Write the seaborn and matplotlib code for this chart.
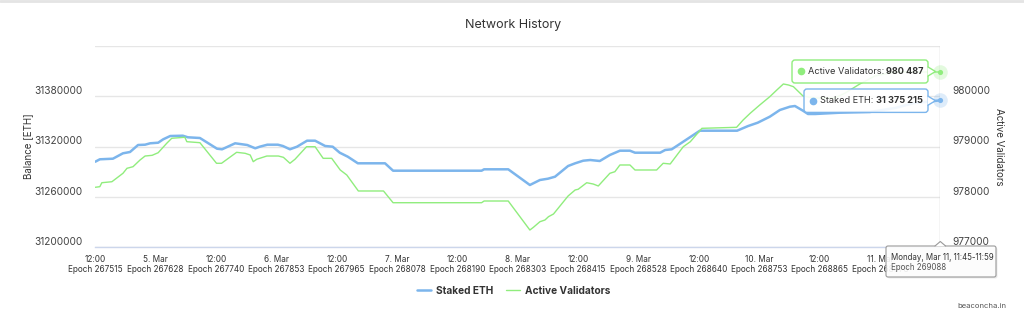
import matplotlib
matplotlib.use("Agg")
import matplotlib.pyplot as plt
import matplotlib.transforms as mtransforms
from matplotlib.patches import FancyBboxPatch, Polygon
from matplotlib.lines import Line2D
from matplotlib.text import Annotation
import pandas as pd
import seaborn as sns

# ---------------- data (hours since 4 Mar 12:00) ----------------
staked_hours = [0, 0.9, 3.5, 5.5, 6.9, 8.5, 9.9, 10.9, 12.5, 13.5, 14.9, 17.4, 18.4, 20.8,
                24.2, 25.2, 27.8, 30.2, 31.8, 32.7, 34.2, 36.3, 37.3, 38.7, 40.1, 42.1, 43.7,
                45.7, 47.2, 48.6, 50.2, 52.2, 57.6, 59.2, 76.8, 77.3, 82.1, 86.4, 88.4, 90.0,
                91.4, 94.0, 95.4, 97.0, 98.4, 100.3, 102.3, 104.3, 106.3, 107.3, 112.3, 113.3,
                114.6, 116.8, 120.2, 127.6, 129.8, 131.7, 134.1, 136.1, 138.1, 139.1, 140.7,
                141.7, 143.1, 148.0, 154.0, 159.0, 162.9, 167.9]
staked_eth = [31301800, 31304670, 31305390, 31311860, 31313410, 31321800, 31322160, 31323830,
              31324550, 31328620, 31332570, 31332930, 31331020, 31330180, 31317360, 31316650,
              31323830, 31321800, 31317840, 31319760, 31322160, 31322160, 31320600, 31316650,
              31319760, 31326950, 31326950, 31320600, 31319760, 31312570, 31307780, 31299880,
              31299880, 31291020, 31291020, 31292690, 31292690, 31273890, 31279880, 31281440,
              31283830, 31296650, 31299880, 31302990, 31303830, 31302630, 31309820, 31314970,
              31314970, 31312570, 31312570, 31315810, 31316650, 31325390, 31338920, 31338920,
              31344550, 31348500, 31355690, 31363710, 31367660, 31368500, 31362870, 31358920,
              31358920, 31360480, 31361320, 31366110, 31372100, 31375215]

validator_hours = [0, 0.9, 1.3, 3.3, 5.5, 6.3, 7.5, 8.9, 9.9, 11.3, 12.5, 14.2, 15.2, 17.8,
                   18.2, 20.8, 24.1, 25.1, 28.1, 29.8, 30.8, 31.4, 32.1, 34.1, 36.4, 37.4,
                   38.7, 39.7, 42.0, 43.7, 45.3, 47.0, 48.7, 50.0, 52.3, 57.3, 59.2, 76.8,
                   77.3, 82.1, 86.4, 87.1, 88.4, 89.4, 90.1, 91.1, 94.0, 95.4, 96.0, 97.7,
                   99.0, 100.0, 102.3, 103.3, 104.3, 106.3, 107.3, 111.6, 112.9, 114.3, 116.9,
                   118.3, 120.6, 127.5, 128.8, 130.2, 132.1, 134.1, 135.5, 136.8, 137.8, 138.8,
                   140.7, 143.1, 147.0, 149.0, 152.0, 155.0, 159.0, 167.9]
active_validators = [978186, 978198, 978277, 978297, 978465, 978565, 978597, 978731, 978810,
                     978824, 978876, 979064, 979164, 979184, 979096, 979076, 978665, 978665,
                     978884, 978864, 978830, 978697, 978745, 978810, 978810, 978784, 978665,
                     978745, 978996, 978996, 978764, 978764, 978531, 978431, 978112, 978112,
                     977878, 977878, 977912, 977912, 977333, 977387, 977499, 977533, 977599,
                     977653, 978012, 978132, 978146, 978277, 978251, 978212, 978465, 978497,
                     978631, 978631, 978531, 978531, 978665, 978651, 978996, 979096, 979363,
                     979383, 979529, 979663, 979828, 979994, 980128, 980248, 980228, 980194,
                     980008, 979968, 979968, 980062, 980248, 980407, 980487, 980487]

tick_hours = [0, 12, 24, 36, 48, 60, 72, 84, 96, 108, 120, 132, 144, 156]
tick_times = ["12:00", "5. Mar", "12:00", "6. Mar", "12:00", "7. Mar", "12:00", "8. Mar",
              "12:00", "9. Mar", "12:00", "10. Mar", "12:00", "11. Mar"]
tick_epochs = [267515, 267628, 267740, 267853, 267965, 268078, 268190, 268303, 268415,
               268528, 268640, 268753, 268865, 268978]
left_ticks = [31200000, 31260000, 31320000, 31380000, 31440000]
right_ticks = [977000, 978000, 979000, 980000, 981000]
hover_label = "Monday, Mar 11, 11:45-11:59"
hover_epoch = 269088

BLUE = "#7cb5ec"
GREEN = "#90ed7d"
TXT = "#333333"

sns.set_style("white")
plt.rcParams["font.family"] = ["Inter", "DejaVu Sans"]

W, H = 1024, 322
fig = plt.figure(figsize=(W / 100, H / 100), dpi=100)
fig.patch.set_facecolor("white")
pix = mtransforms.Affine2D().scale(1 / W, -1 / H).translate(0, 1) + fig.transFigure

L, R, T, B = 95.3, 940.3, 46.3, 246.7
ax = fig.add_axes([L / W, 1 - B / H, (R - L) / W, (B - T) / H])
ax2 = ax.twinx()

df_s = pd.DataFrame({"hours": staked_hours, "value": staked_eth})
df_v = pd.DataFrame({"hours": validator_hours, "value": active_validators})
sns.lineplot(data=df_s, x="hours", y="value", ax=ax, color=BLUE, linewidth=1.8,
             estimator=None, sort=False, legend=False)
sns.lineplot(data=df_v, x="hours", y="value", ax=ax2, color=GREEN, linewidth=1.0,
             estimator=None, sort=False, legend=False)

# hover markers at the last point
ax.scatter([staked_hours[-1]], [staked_eth[-1]], s=110, color=BLUE, alpha=0.25,
           linewidths=0, clip_on=False, zorder=5)
ax.scatter([staked_hours[-1]], [staked_eth[-1]], s=14, color=BLUE, linewidths=0,
           clip_on=False, zorder=6)
ax2.scatter([validator_hours[-1]], [active_validators[-1]], s=110, color=GREEN, alpha=0.25,
            linewidths=0, clip_on=False, zorder=5)
ax2.scatter([validator_hours[-1]], [active_validators[-1]], s=14, color=GREEN, linewidths=0,
            clip_on=False, zorder=6)
ax.axvline(staked_hours[-1], color="#cccccc", lw=1, zorder=1)

ax.set_xlim(0, 168)
ax.set_ylim(left_ticks[0], left_ticks[-1])
ax2.set_ylim(right_ticks[0], right_ticks[-1])

ax.set_xticks(tick_hours)
ax.set_xticklabels([f"{t}\nEpoch {e}" for t, e in zip(tick_times, tick_epochs)])
ax.tick_params(axis="x", length=4.3, width=1, color="#ccd6eb", pad=1.5, labelsize=5.9,
               labelcolor=TXT)

ax.set_yticks(left_ticks)
ax.set_yticklabels([str(v) for v in left_ticks[:-1]] + [""])
ax.tick_params(axis="y", length=0, pad=9, labelsize=7.3, labelcolor="#444444")
ax2.set_yticks(right_ticks)
ax2.set_yticklabels([str(v) for v in right_ticks[:-1]] + [""])
ax2.tick_params(axis="y", length=0, pad=9, labelsize=7.3, labelcolor="#444444")
for lbl in ax.get_yticklabels() + ax2.get_yticklabels():
    lbl.set_verticalalignment("bottom")

ax.grid(axis="y", color="#e6e6e6", lw=1)
ax.grid(axis="x", visible=False)
ax2.grid(False)
for sp in ["top", "left", "right"]:
    ax.spines[sp].set_visible(False)
for sp in ["top", "left", "right", "bottom"]:
    ax2.spines[sp].set_visible(False)
ax.spines["bottom"].set_color("#ccd6eb")
ax.spines["bottom"].set_linewidth(1)

ax.set_xlabel("")
ax.set_ylabel("Balance [ETH]", fontsize=7, color=TXT)
ax.yaxis.set_label_coords(-0.0796, 0.5)
ax.yaxis.label.set_va("center")
ax2.set_ylabel("Active Validators", fontsize=7, color=TXT, rotation=270)
ax2.yaxis.set_label_coords(1.069, 0.5)
ax2.yaxis.label.set_va("center")

fig.text(513, 25, "Network History", transform=pix, ha="center", va="center",
         fontsize=9, color=TXT)

fig.legend(handles=[Line2D([], [], color=BLUE, lw=1.8), Line2D([], [], color=GREEN, lw=1.0)],
           labels=["Staked ETH", "Active Validators"], loc="center",
           bbox_to_anchor=(513.5 / W, 1 - 291 / H), ncol=2, frameon=False,
           prop={"weight": "bold", "size": 7.3}, handlelength=1.4, handletextpad=0.45,
           columnspacing=1.3, labelcolor=TXT)

fig.text(1006, 306, "beaconcha.in", transform=pix, ha="right", va="center",
         fontsize=5.5, color="#555555")

# top border line of the screenshot frame
fig.add_artist(Line2D([0, W], [0.8, 0.8], transform=pix, color="#e4e4e4", lw=2))


def fmt(v):
    return f"{v:,}".replace(",", " ")


def tooltip(x0, y0, x1, y1, color, label, value, dot_x, tip_x):
    ym = (y0 + y1) / 2
    box = FancyBboxPatch((x0, y0), x1 - x0, y1 - y0, boxstyle="round,pad=0,rounding_size=3",
                         transform=pix, fc=(1, 1, 1, 0.9), ec=color, lw=1, zorder=10)
    fig.add_artist(box)
    tri = Polygon([(x1 - 0.5, ym - 4.5), (tip_x, ym), (x1 - 0.5, ym + 4.5)], closed=True,
                  transform=pix, fc="white", ec="none", zorder=11)
    fig.add_artist(tri)
    fig.add_artist(Line2D([x1, tip_x, x1], [ym - 4.5, ym, ym + 4.5], transform=pix,
                          color=color, lw=1, zorder=11))
    fig.add_artist(Line2D([dot_x], [ym], transform=pix, marker="o", ms=4.5, color=color,
                          ls="", zorder=12))
    t1 = fig.text(dot_x + 6.5, ym, label, transform=pix, ha="left", va="center",
                  fontsize=6.6, color=TXT, zorder=12)
    a = Annotation(value, xy=(1, 0.5), xycoords=t1, ha="left", va="center",
                   fontsize=6.6, color=TXT, weight="bold", zorder=12)
    fig.add_artist(a)


tooltip(792, 60, 928, 83, GREEN, "Active Validators: ", fmt(active_validators[-1]), 801, 935.5)
tooltip(804, 89, 928, 112.4, BLUE, "Staked ETH: ", fmt(staked_eth[-1]), 813, 935.5)

# bottom hover tooltip
shadow = FancyBboxPatch((887.5, 247.5), 110, 31, boxstyle="round,pad=0,rounding_size=2",
                        transform=pix, fc=(0, 0, 0, 0.08), ec="none", zorder=9)
fig.add_artist(shadow)
hbox = FancyBboxPatch((886, 246), 110, 31, boxstyle="round,pad=0,rounding_size=2",
                      transform=pix, fc=(1, 1, 1, 0.9), ec="#999999", lw=0.8, zorder=10)
fig.add_artist(hbox)
fig.add_artist(Polygon([(935, 246.4), (940.3, 241.5), (945.6, 246.4)], closed=True,
                       transform=pix, fc="white", ec="none", zorder=11))
fig.add_artist(Line2D([935, 940.3, 945.6], [246, 241.5, 246], transform=pix,
                      color="#999999", lw=0.8, zorder=11))
fig.text(891, 257.7, hover_label, transform=pix, ha="left", va="center", fontsize=5.7,
         color=TXT, zorder=12)
fig.text(891, 267.7, f"Epoch {hover_epoch}", transform=pix, ha="left", va="center",
         fontsize=5.7, color="#555555", zorder=12)

fig.savefig("out.png", dpi=100, facecolor="white")
